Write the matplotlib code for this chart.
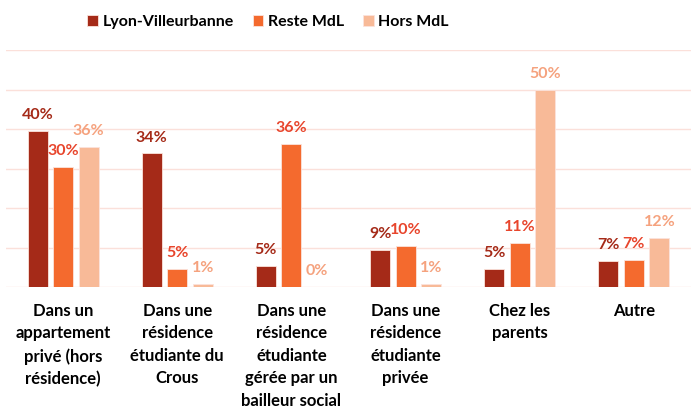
import matplotlib
matplotlib.use("Agg")
import matplotlib.pyplot as plt
import numpy as np

plt.rcParams['font.family'] = ["Lato", "DejaVu Sans"]

categories = [
    "Dans un\nappartement\nprivé (hors\nrésidence)",
    "Dans une\nrésidence\nétudiante du\nCrous",
    "Dans une\nrésidence\nétudiante\ngérée par un\nbailleur social",
    "Dans une\nrésidence\nétudiante\nprivée",
    "Chez les\nparents",
    "Autre",
]
series_names = ["Lyon-Villeurbanne", "Reste MdL", "Hors MdL"]
lyon = [39.6, 33.8, 5.3, 9.3, 4.5, 6.6]
reste = [30.3, 4.6, 36.1, 10.4, 11.1, 6.8]
hors = [35.4, 0.8, 0.0, 0.8, 50.0, 12.3]
labels_lyon = ["40%", "34%", "5%", "9%", "5%", "7%"]
labels_reste = ["30%", "5%", "36%", "10%", "11%", "7%"]
labels_hors = ["36%", "1%", "0%", "1%", "50%", "12%"]

bar_colors = ["#A52A18", "#F46A2E", "#F8BA98"]
label_colors = ["#A52A18", "#E8452C", "#F5A27E"]

fig = plt.figure(figsize=(6.91, 4.07), dpi=100)
ax = fig.add_axes([6/691, 120/407, 685/691, 237/407])

x = np.arange(len(categories))
w = 0.175
step = 0.223
vals = [lyon, reste, hors]
labs = [labels_lyon, labels_reste, labels_hors]
handles = []
for i, (v, l) in enumerate(zip(vals, labs)):
    pos = x + (i - 1) * step
    b = ax.bar(pos, v, width=w, color=bar_colors[i], edgecolor="#FBE3DC", linewidth=0.6, zorder=3, label=series_names[i])
    handles.append(b)
    for px, py, t in zip(pos, v, l):
        ax.annotate(t, (px, py), xytext=(0, 11.5), textcoords="offset points",
                    ha="center", va="center", fontsize=11.5, fontweight="bold",
                    color=label_colors[i], zorder=4)

ax.set_xlim(-0.5, len(categories) - 0.5)
ax.set_ylim(0, 60)
ax.set_yticks(np.arange(0, 61, 10))
ax.yaxis.grid(True, color="#FBE0DA", linewidth=1.0, zorder=0)
ax.tick_params(axis="y", left=False, labelleft=False)
ax.tick_params(axis="x", bottom=False, pad=8)
for s in ax.spines.values():
    s.set_visible(False)
ax.set_xticks(x)
ax.set_xticklabels(categories, fontsize=12, fontweight="bold", color="#000000", linespacing=1.5, va="top")

fig.legend(handles=handles, labels=series_names, loc="center", bbox_to_anchor=(268/691, 1 - 22/407),
           ncol=3, frameon=False, prop={"size": 11.5, "weight": "bold"}, handlelength=0.65, handleheight=0.65,
           handletextpad=0.3, columnspacing=1.2)

fig.savefig("out.png", dpi=100)
